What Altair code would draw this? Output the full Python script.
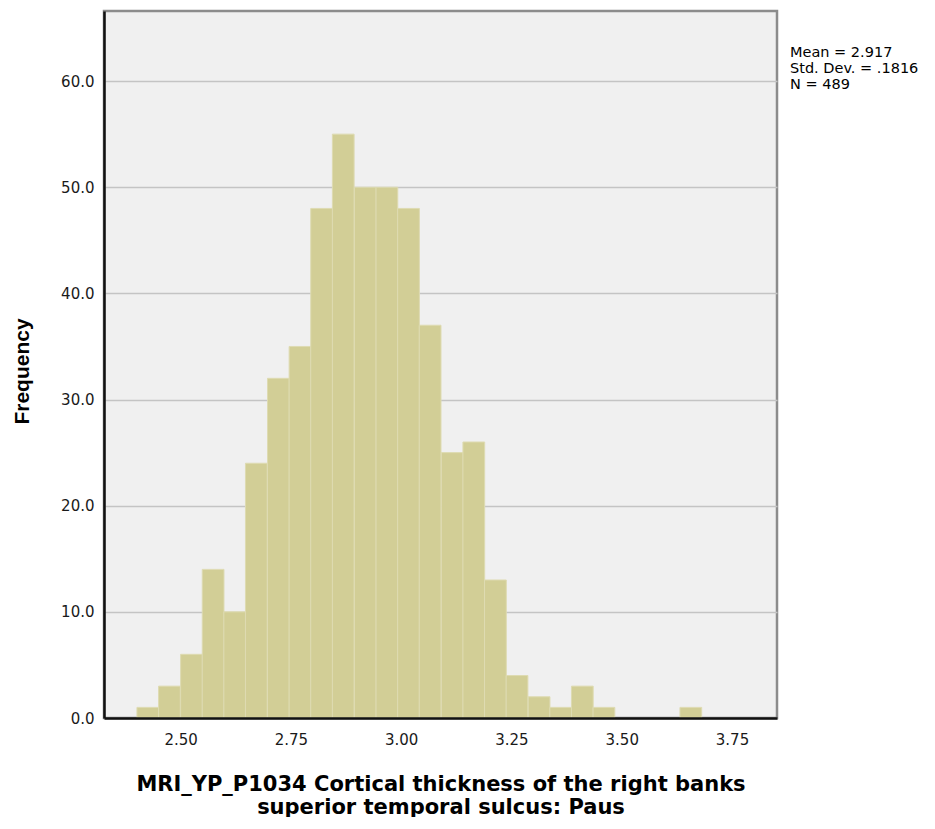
import altair as alt
import pandas as pd

# Histogram bins (lower edges, in data units) and frequencies
bin_starts = [2.401, 2.450, 2.500, 2.549, 2.598, 2.647, 2.697, 2.746, 2.795,
              2.844, 2.894, 2.943, 2.992, 3.041, 3.091, 3.140, 3.189, 3.238,
              3.288, 3.337, 3.386, 3.435, 3.485, 3.534, 3.583, 3.632]
bin_width = 0.0493
counts = [1, 3, 6, 14, 10, 24, 32, 35, 48, 55, 50, 50, 48, 37, 25, 26, 13, 4,
          2, 1, 3, 1, 0, 0, 0, 1]

x_ticks = [2.50, 2.75, 3.00, 3.25, 3.50, 3.75]
y_ticks = [0, 10, 20, 30, 40, 50, 60]
stats_lines = ["Mean = 2.917", "Std. Dev. = .1816", "N = 489"]
x_title = ["MRI_YP_P1034 Cortical thickness of the right banks",
           "superior temporal sulcus: Paus"]
y_title = "Frequency"

df = pd.DataFrame({"start": bin_starts, "count": counts})
df["end"] = df["start"] + bin_width
df["base"] = 0
df = df[df["count"] > 0]

bars = alt.Chart(df).mark_bar(
    color="#D2CE96", stroke="#DEDBB2", strokeWidth=1
).encode(
    x=alt.X(
        "start:Q",
        scale=alt.Scale(domain=[2.3263, 3.852], nice=False, zero=False),
        axis=alt.Axis(
            values=x_ticks, format=".2f", title=x_title, grid=False,
            ticks=False, labelPadding=14, labelFont="DejaVu Sans",
            labelFontSize=15, labelColor="#1a1a1a",
            domainColor="#111111", domainWidth=2.5,
            titleFont="DejaVu Sans", titleFontSize=21, titleFontWeight="bold",
            titleColor="#000000", titleLineHeight=23,
            titleY=55, titleBaseline="top", titleAlign="center",
            zindex=1,
        ),
    ),
    x2="end:Q",
    y=alt.Y(
        "count:Q",
        scale=alt.Scale(domain=[0, 66.6], nice=False),
        axis=alt.Axis(
            values=y_ticks, format=".1f", title=y_title, grid=True,
            gridColor="#c4c4c4", gridWidth=1.5, ticks=False,
            labelPadding=10, labelFont="DejaVu Sans", labelFontSize=15,
            labelColor="#1a1a1a", domainColor="#111111", domainWidth=2.5,
            titleFont="Liberation Sans", titleFontSize=21,
            titleFontWeight="bold", titleColor="#000000",
            titleX=-82, titleY=360, titleAngle=-90,
            titleAlign="center", titleBaseline="middle",
            zindex=0,
        ),
    ),
    y2="base:Q",
)

stats = alt.Chart(pd.DataFrame({"k": [0]})).mark_text(
    text=stats_lines, align="left", baseline="alphabetic",
    font="DejaVu Sans", fontSize=14.5, lineHeight=16, color="#000000",
).encode(
    x=alt.value(686),
    y=alt.value(46),
)

chart = alt.layer(bars, stats).properties(
    width=673,
    height=707,
    autosize=alt.AutoSizeParams(type="none"),
    padding={"left": 96, "top": 3, "right": 150, "bottom": 99},
    background="#ffffff",
).configure_view(
    fill="#F0F0F0", stroke="#8c8c8c", strokeWidth=2.5
)

chart.save("out.html", embed_options={"renderer": "svg", "actions": False})
